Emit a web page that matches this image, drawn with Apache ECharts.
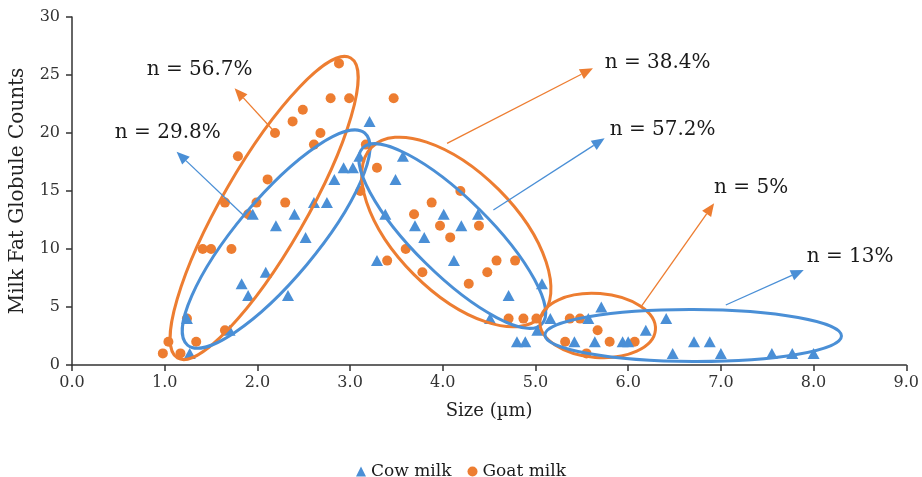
<!DOCTYPE html>
<html><head><meta charset="utf-8">
<script src="https://cdn.jsdelivr.net/npm/echarts@6/dist/echarts.min.js"></script>
<style>html,body{margin:0;padding:0;background:#fff}#c{width:922px;height:477px}</style>
</head><body><div id="c"></div>
<script>
// ---- data (size in µm, count) ----
const cowMilk = [
  [1.24,4],[1.27,1],[1.70,3],[1.83,7],[1.90,6],[2.09,8],[2.33,6],[1.95,13],[2.40,13],[2.20,12],
  [2.52,11],[2.61,14],[2.75,14],[2.83,16],[2.93,17],[3.03,17],[3.10,18],[3.21,21],[3.57,18],[3.49,16],
  [3.38,13],[4.01,13],[4.38,13],[3.70,12],[4.20,12],[3.80,11],[3.29,9],[4.12,9],[4.71,6],[5.07,7],
  [4.51,4],[4.80,2],[4.89,2],[5.16,4],[5.02,3],[5.71,5],[5.57,4],[6.41,4],[6.19,3],[5.42,2],
  [5.64,2],[5.94,2],[6.00,2],[6.48,1],[6.71,2],[6.88,2],[7.00,1],[7.55,1],[7.77,1],[8.00,1]
];
const goatMilk = [
  [0.98,1],[1.04,2],[1.17,1],[1.34,2],[1.24,4],[1.65,3],[1.41,10],[1.50,10],[1.72,10],[1.65,14],
  [1.90,13],[1.99,14],[2.30,14],[2.11,16],[1.79,18],[2.19,20],[2.68,20],[2.61,19],[2.38,21],[2.49,22],
  [2.79,23],[2.99,23],[2.88,26],[3.47,23],[3.17,19],[3.29,17],[3.11,15],[4.19,15],[3.88,14],[3.69,13],
  [3.97,12],[4.39,12],[4.08,11],[3.60,10],[3.40,9],[3.78,8],[4.58,9],[4.78,9],[4.48,8],[4.28,7],
  [4.71,4],[4.87,4],[5.01,4],[5.37,4],[5.48,4],[5.67,3],[5.32,2],[5.80,2],[6.07,2],[5.55,1]
];
const seriesNames = ['Cow milk', 'Goat milk'];

// ---- annotations (cluster ellipses: major-axis endpoints in data units) ----
const ellipseSeries = ['goat','cow','goat','cow','goat','cow'];
const ellipseEnds = [
  [[1.138,0.60],[3.007,26.47]],
  [[1.246,1.72],[3.158,20.00]],
  [[3.234,18.78],[5.058,4.15]],
  [[3.138,18.73],[5.067,3.51]],
  [[5.048,3.79],[6.294,3.02]],
  [[5.102,2.59],[8.301,2.50]]
];
const ellipseHalfWidthPx = [42, 40, 60, 38, 32, 26];

const arrowSeries = ['goat','cow','goat','cow','goat','cow'];
const arrowEnds = [
  [[2.184,20.11],[1.754,23.85]],
  [[1.858,12.84],[1.128,18.39]],
  [[4.046,19.11],[5.620,25.58]],
  [[4.546,13.36],[5.746,19.54]],
  [[6.140,5.03],[6.927,13.94]],
  [[7.053,5.17],[7.894,8.19]]
];
const shareLabels = ['n = 56.7%','n = 29.8%','n = 38.4%','n = 57.2%','n = 5%','n = 13%'];
const shareLabelAnchor = [[0.806,25.43],[0.462,20.0],[5.746,26.03],[5.80,20.26],[6.927,15.26],[7.926,9.31]];

const COLORS = {cow:'#4a8fd6', goat:'#ed7d31'};
const FONT = '"DejaVu Serif", "Liberation Serif", serif';

const chart = echarts.init(document.getElementById('c'), null, {renderer:'canvas'});

function renderAnnotations(params, api) {
  if (params.dataIndex !== 0) return;
  const children = [];
  ellipseEnds.forEach((e, i) => {
    const p1 = api.coord(e[0]), p2 = api.coord(e[1]);
    const cx = (p1[0]+p2[0])/2, cy = (p1[1]+p2[1])/2;
    const dx = p2[0]-p1[0], dy = p2[1]-p1[1];
    const a = Math.sqrt(dx*dx+dy*dy)/2;
    const ang = Math.atan2(dy, dx);
    children.push({
      type:'ellipse', x:cx, y:cy, rotation:-ang,
      shape:{cx:0, cy:0, rx:a, ry:ellipseHalfWidthPx[i]},
      style:{fill:null, stroke:COLORS[ellipseSeries[i]], lineWidth:3}
    });
  });
  arrowEnds.forEach((e, i) => {
    const p1 = api.coord(e[0]), p2 = api.coord(e[1]);
    const dx = p2[0]-p1[0], dy = p2[1]-p1[1];
    const L = Math.sqrt(dx*dx+dy*dy), ux = dx/L, uy = dy/L;
    const hl = 13, hw = 5.5;
    const bx = p2[0]-ux*hl, by = p2[1]-uy*hl;
    const col = COLORS[arrowSeries[i]];
    children.push({type:'line', shape:{x1:p1[0], y1:p1[1], x2:bx, y2:by}, style:{stroke:col, lineWidth:1.3}});
    children.push({type:'polygon', shape:{points:[[p2[0],p2[1]],[bx-uy*hw, by+ux*hw],[bx+uy*hw, by-ux*hw]]}, style:{fill:col}});
  });
  shareLabels.forEach((t, i) => {
    const p = api.coord(shareLabelAnchor[i]);
    children.push({type:'text', x:p[0], y:p[1], style:{text:t, font:'20px '+FONT, fill:'#1a1a1a', align:'left', verticalAlign:'middle'}});
  });
  return {type:'group', children};
}

chart.setOption({
  animation:false,
  backgroundColor:'#fff',
  grid:{left:70, right:14, top:17, bottom:112, containLabel:false},
  legend:{
    data:[{name:seriesNames[0], icon:'triangle'},{name:seriesNames[1], icon:'circle'}],
    top:458, left:'center', itemWidth:10, itemHeight:10, itemGap:16,
    textStyle:{fontFamily:FONT, fontSize:17, color:'#1a1a1a'}
  },
  xAxis:{
    type:'value', min:0, max:9, interval:1,
    name:'Size (µm)', nameLocation:'middle', nameGap:37,
    nameTextStyle:{fontFamily:FONT, fontSize:18, color:'#222'},
    axisLine:{show:true, onZero:false, lineStyle:{color:'#333', width:1.5}},
    axisTick:{show:true, inside:false, length:6, lineStyle:{color:'#333', width:1.5}},
    axisLabel:{fontFamily:FONT, fontSize:16, color:'#333', margin:10, formatter:v=>v.toFixed(1)},
    splitLine:{show:false}
  },
  yAxis:{
    type:'value', min:0, max:30, interval:5,
    name:'Milk Fat Globule Counts', nameLocation:'middle', nameGap:44, nameRotate:90,
    nameTextStyle:{fontFamily:FONT, fontSize:20, color:'#222'},
    axisLine:{show:true, lineStyle:{color:'#333', width:1.5}},
    axisTick:{show:true, inside:false, length:6, lineStyle:{color:'#333', width:1.5}},
    axisLabel:{fontFamily:FONT, fontSize:16, color:'#333', margin:12},
    splitLine:{show:false}
  },
  series:[
    {name:seriesNames[0], type:'scatter', data:cowMilk, symbol:'triangle', symbolSize:[12,11],
     itemStyle:{color:COLORS.cow, opacity:1}, z:3},
    {name:seriesNames[1], type:'scatter', data:goatMilk, symbol:'circle', symbolSize:10,
     itemStyle:{color:COLORS.goat, opacity:1}, z:2},
    {name:'annotations', type:'custom', data:[[0,0]], renderItem:renderAnnotations, clip:false, silent:true, z:4}
  ]
});
</script></body></html>
